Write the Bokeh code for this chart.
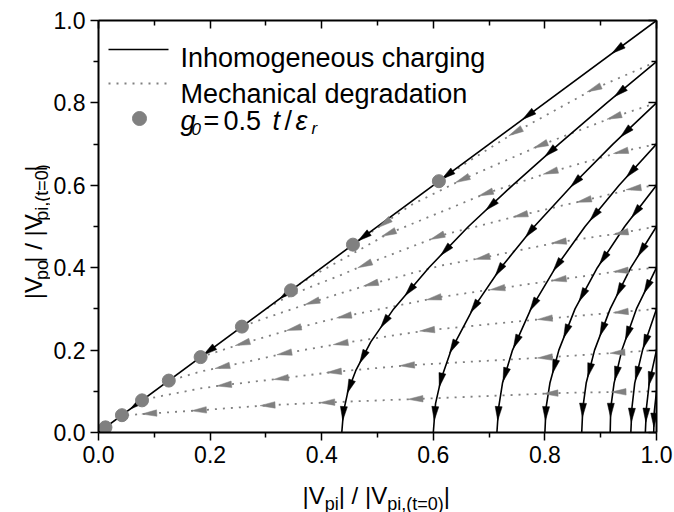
import math
from bokeh.plotting import figure
from bokeh.layouts import column, row
from bokeh.models import Label, LinearAxis, FixedTicker, NumeralTickFormatter, Range1d, CustomJSTickFormatter
from bokeh.core.properties import value
from bokeh.embed import file_html
from bokeh.resources import INLINE

# ---------------- data ----------------
tick_values = [0.0, 0.2, 0.4, 0.6, 0.8, 1.0]
minor_tick_values = [0.1, 0.3, 0.5, 0.7, 0.9]

# Inhomogeneous charging trajectories (black solid), starting at |Vpi|/|Vpi,0| = 1
charge_start = [1.0, 0.9, 0.8, 0.7, 0.6, 0.5, 0.4, 0.3, 0.2, 0.1]
charge_x = [
    [1.0, 0.0],
    [1.000, 0.911, 0.825, 0.742, 0.663, 0.592, 0.529, 0.488, 0.461, 0.447, 0.439, 0.436],
    [1.000, 0.922, 0.849, 0.781, 0.721, 0.671, 0.632, 0.614, 0.604, 0.600],
    [1.000, 0.933, 0.872, 0.819, 0.775, 0.742, 0.724, 0.717, 0.714],
    [1.000, 0.943, 0.894, 0.854, 0.825, 0.809, 0.802, 0.800],
    [1.000, 0.954, 0.917, 0.889, 0.874, 0.868, 0.866],
    [1.000, 0.964, 0.938, 0.924, 0.918, 0.917],
    [1.000, 0.975, 0.961, 0.956, 0.954],
    [1.000, 0.987, 0.982, 0.980],
    [1.000, 0.996, 0.995],
]
charge_y = [
    [1.0, 0.0],
    [0.90, 0.80, 0.70, 0.60, 0.50, 0.40, 0.30, 0.22, 0.15, 0.10, 0.05, 0.0],
    [0.80, 0.70, 0.60, 0.50, 0.40, 0.30, 0.20, 0.13, 0.07, 0.0],
    [0.70, 0.60, 0.50, 0.40, 0.30, 0.20, 0.12, 0.06, 0.0],
    [0.60, 0.50, 0.40, 0.30, 0.20, 0.12, 0.06, 0.0],
    [0.50, 0.40, 0.30, 0.20, 0.12, 0.06, 0.0],
    [0.40, 0.30, 0.20, 0.12, 0.06, 0.0],
    [0.30, 0.20, 0.12, 0.06, 0.0],
    [0.20, 0.12, 0.06, 0.0],
    [0.10, 0.05, 0.0],
]
# arrow positions (|Vpo| level) on each charging trajectory
charge_arrow_y = [
    [0.93, 0.77, 0.625, 0.475, 0.335, 0.198, 0.067],
    [0.826, 0.681, 0.551, 0.442, 0.345, 0.268, 0.183, 0.111, 0.046],
    [0.729, 0.608, 0.487, 0.394, 0.305, 0.208, 0.127, 0.046],
    [0.632, 0.527, 0.406, 0.31, 0.22, 0.14, 0.046],
    [0.535, 0.422, 0.333, 0.245, 0.16, 0.046],
    [0.442, 0.345, 0.25, 0.151, 0.054],
    [0.353, 0.24, 0.143, 0.054],
    [0.22, 0.143, 0.042],
    [0.13, 0.042],
    [0.03],
]

# Mechanical degradation trajectories (grey dotted)
mech_start = [0.9, 0.8, 0.7, 0.6, 0.5, 0.4, 0.3, 0.2, 0.1]
mech_x = [
    [1.0, 0.888, 0.747, 0.67, 0.61],
    [1.0, 0.924, 0.792, 0.652, 0.56, 0.456],
    [1.0, 0.936, 0.81, 0.694, 0.52, 0.434, 0.39, 0.36],
    [1.0, 0.959, 0.87, 0.756, 0.613, 0.479, 0.434, 0.374, 0.33, 0.30],
    [1.0, 0.936, 0.825, 0.688, 0.613, 0.488, 0.434, 0.383, 0.30, 0.257],
    [1.0, 0.936, 0.825, 0.715, 0.613, 0.434, 0.35, 0.258, 0.183],
    [1.0, 0.80, 0.589, 0.434, 0.333, 0.267, 0.183, 0.125],
    [1.0, 0.80, 0.553, 0.422, 0.327, 0.225, 0.183, 0.103, 0.078],
    [1.0, 0.83, 0.601, 0.41, 0.303, 0.183, 0.091, 0.041],
]
mech_y = [
    [0.9, 0.834, 0.729, 0.664, 0.61],
    [0.8, 0.766, 0.697, 0.614, 0.552, 0.456],
    [0.7, 0.681, 0.632, 0.58, 0.483, 0.418, 0.385, 0.36],
    [0.6, 0.592, 0.563, 0.527, 0.478, 0.408, 0.382, 0.35, 0.323, 0.30],
    [0.5, 0.484, 0.462, 0.424, 0.405, 0.36, 0.338, 0.316, 0.278, 0.257],
    [0.4, 0.392, 0.371, 0.349, 0.329, 0.28, 0.252, 0.216, 0.183],
    [0.3, 0.276, 0.248, 0.216, 0.192, 0.172, 0.148, 0.125],
    [0.2, 0.182, 0.163, 0.147, 0.131, 0.115, 0.107, 0.086, 0.078],
    [0.1, 0.096, 0.083, 0.073, 0.066, 0.054, 0.046, 0.041],
]
# arrow positions (|Vpi| level) on each degradation trajectory
mech_arrow_x = [
    [0.888, 0.747],
    [0.924, 0.792, 0.652, 0.512],
    [0.936, 0.81, 0.694, 0.52],
    [0.959, 0.87, 0.756, 0.607, 0.477],
    [0.936, 0.825, 0.688, 0.488, 0.383],
    [0.936, 0.825, 0.715, 0.601, 0.44, 0.35, 0.258],
    [0.936, 0.80, 0.589, 0.434, 0.333, 0.222],
    [0.93, 0.80, 0.553, 0.422, 0.327, 0.225],
    [0.932, 0.81, 0.568, 0.41, 0.303, 0.18, 0.091],
]

# g0 = 0.5 t/eps_r points
g0_vpi = [0.0125, 0.042, 0.078, 0.126, 0.183, 0.257, 0.345, 0.456, 0.61]
g0_vpo = [0.0125, 0.042, 0.078, 0.126, 0.183, 0.257, 0.345, 0.456, 0.61]

# ---------------- layout ----------------
W, H = 674, 512
LT_W = 50                 # left title strip width
BT_H = 36                 # bottom title strip height
ML, MT, MR, MB = 48, 20, 18, 44   # main figure borders
FW, FH = W - LT_W - ML - MR, H - BT_H - MT - MB   # 558 x 412
L0 = LT_W + ML            # frame left in page pixels (98)
GRAY = "#808080"
FONT = "Liberation Sans"

def X(px):
    return (px - L0) / FW

def Y(py):
    return (MT + FH - py) / FH

p = figure(frame_width=FW, frame_height=FH, x_range=Range1d(0, 1), y_range=Range1d(0, 1),
           output_backend="svg", toolbar_location=None,
           min_border_left=ML, min_border_top=MT, min_border_right=MR, min_border_bottom=MB)
p.xgrid.visible = False
p.ygrid.visible = False
p.outline_line_color = None
p.background_fill_color = "white"
p.border_fill_color = "white"

def style_axis(ax, inward, labels):
    ax.ticker = FixedTicker(ticks=tick_values, minor_ticks=minor_tick_values)
    ax.axis_line_width = 2
    ax.axis_line_color = "black"
    ax.major_tick_line_width = 1.5
    ax.minor_tick_line_width = 1.5
    if inward:
        ax.major_tick_in, ax.major_tick_out = 8, 0
        ax.minor_tick_in, ax.minor_tick_out = 5, 0
    else:
        ax.major_tick_in, ax.major_tick_out = 0, 8
        ax.minor_tick_in, ax.minor_tick_out = 0, 5
    if labels:
        ax.formatter = NumeralTickFormatter(format="0.0")
        ax.major_label_text_font = FONT
        ax.major_label_text_font_size = "23px"
        ax.major_label_text_color = "black"
        ax.major_label_standoff = 5
    else:
        ax.formatter = CustomJSTickFormatter(code="return ''")
        ax.major_label_standoff = 0

style_axis(p.xaxis[0], False, True)
style_axis(p.yaxis[0], False, True)
top_ax = LinearAxis()
right_ax = LinearAxis()
style_axis(top_ax, True, False)
style_axis(right_ax, True, False)
p.add_layout(top_ax, "above")
p.add_layout(right_ax, "right")

SX, SY = FW, FH

def locate(xs, ys, level, use_x):
    vals = xs if use_x else ys
    for i in range(len(xs) - 1):
        a, b = vals[i], vals[i + 1]
        if a != b and (a - level) * (b - level) <= 0:
            t = (level - a) / (b - a)
            px = xs[i] + t * (xs[i + 1] - xs[i])
            py = ys[i] + t * (ys[i + 1] - ys[i])
            dx = (xs[i + 1] - xs[i]) * SX
            dy = (ys[i + 1] - ys[i]) * SY
            n = math.hypot(dx, dy)
            return px, py, dx / n, dy / n
    return None

def triangle(px, py, ux, uy, length, width):
    hx, hy = ux * length / 2, uy * length / 2
    nx, ny = -uy * width / 2, ux * width / 2
    tx, ty = px + hx / SX, py + hy / SY
    b1x, b1y = px + (-hx + nx) / SX, py + (-hy + ny) / SY
    b2x, b2y = px + (-hx - nx) / SX, py + (-hy - ny) / SY
    return [tx, b1x, b2x], [ty, b1y, b2y]

# grey dotted degradation lines
for xs, ys in zip(mech_x, mech_y):
    p.line(xs, ys, line_color=GRAY, line_width=1.8, line_dash="2 6")

# black charging lines
for xs, ys in zip(charge_x, charge_y):
    p.line(xs, ys, line_color="black", line_width=1.6)

# black arrows
bx, by = [], []
for xs, ys, levels in zip(charge_x, charge_y, charge_arrow_y):
    for lv in levels:
        r = locate(xs, ys, lv, False)
        if r:
            tx, ty = triangle(*r, 14, 7)
            bx.append(tx)
            by.append(ty)
p.patches(bx, by, fill_color="black", line_color="black", line_width=0.5)

# grey arrows
gx, gy = [], []
for xs, ys, levels in zip(mech_x, mech_y, mech_arrow_x):
    for lv in levels:
        r = locate(xs, ys, lv, True)
        if r:
            tx, ty = triangle(*r, 15, 6.5)
            gx.append(tx)
            gy.append(ty)
p.patches(gx, gy, fill_color=GRAY, line_color=GRAY, line_width=0.5)

# g0 markers
p.scatter(g0_vpi, g0_vpo, size=13, marker="circle", fill_color=GRAY, line_color=GRAY)

# ---------------- legend (drawn by hand, inside the frame) ----------------
p.line([X(108), X(168)], [Y(49), Y(49)], line_color="black", line_width=1.6)
p.line([X(108), X(168)], [Y(83), Y(83)], line_color=GRAY, line_width=1.8, line_dash="2 6")
p.scatter([X(139)], [Y(118)], size=14, marker="circle", fill_color=GRAY, line_color=GRAY)

def txt(px, py, text, size, italic=False):
    p.add_layout(Label(x=X(px), y=Y(py), x_units="data", y_units="data", text=text,
                       text_font=FONT, text_font_size=f"{size}px",
                       text_font_style="italic" if italic else "normal",
                       text_baseline="alphabetic", text_align="left", text_color="black"))

txt(180, 57, "Inhomogeneous charging", 27)
txt(180, 93, "Mechanical degradation", 27)
txt(180, 120, "g", 27, italic=True)
txt(191, 128, "0", 17, italic=True)
txt(203, 120, "=", 27)
txt(223, 120, "0.5", 27)
txt(272, 120, "t", 27, italic=True)
txt(284, 120, "/", 27)
txt(295, 120, "\u03b5", 27, italic=True)
txt(311, 128, "r", 17, italic=True)

# ---------------- axis titles (own small figures) ----------------
MAIN, SUB = 24, 18

def strip(w, h):
    f = figure(width=w, height=h, x_range=Range1d(0, w), y_range=Range1d(0, h),
               output_backend="svg", toolbar_location=None,
               x_axis_location=None, y_axis_location=None, min_border=0)
    f.grid.visible = False
    f.outline_line_color = None
    f.background_fill_color = "white"
    f.border_fill_color = "white"
    return f

def put(f, xs, ys, texts, size, angle=0.0):
    f.text(x=xs, y=ys, text=texts, text_font=value(FONT), text_font_size=value(f"{size}px"),
           text_baseline="alphabetic", text_align="left", text_color="black", angle=angle)

# x title: |Vpi| / |Vpi,(t=0)|   (bottom strip, page y 476..512)
bt = strip(W, BT_H)
main_base = H - 495
sub_base = H - 503
put(bt, [302, 338.2, 443.2], [main_base] * 3, ["|V", "| / |V", "|"], MAIN)
put(bt, [324.2, 386.7], [sub_base] * 2, ["pi", "pi,(t=0)"], SUB)

# y title: |Vpo| / |Vpi,(t=0)|   (left strip, rotated)
lt_h = H - BT_H
lt = strip(LT_W, lt_h)
A = math.pi / 2
put(lt, [33, 33, 33], [lt_h - 322, lt_h - 279.8, lt_h - 174.8], ["|V", "| / |V", "|"], MAIN, A)
put(lt, [41, 41], [lt_h - 299.8, lt_h - 231.3], ["po", "pi,(t=0)"], SUB, A)

layout = column(row(lt, p), bt)
open("out.html", "w").write(file_html(layout, INLINE))
